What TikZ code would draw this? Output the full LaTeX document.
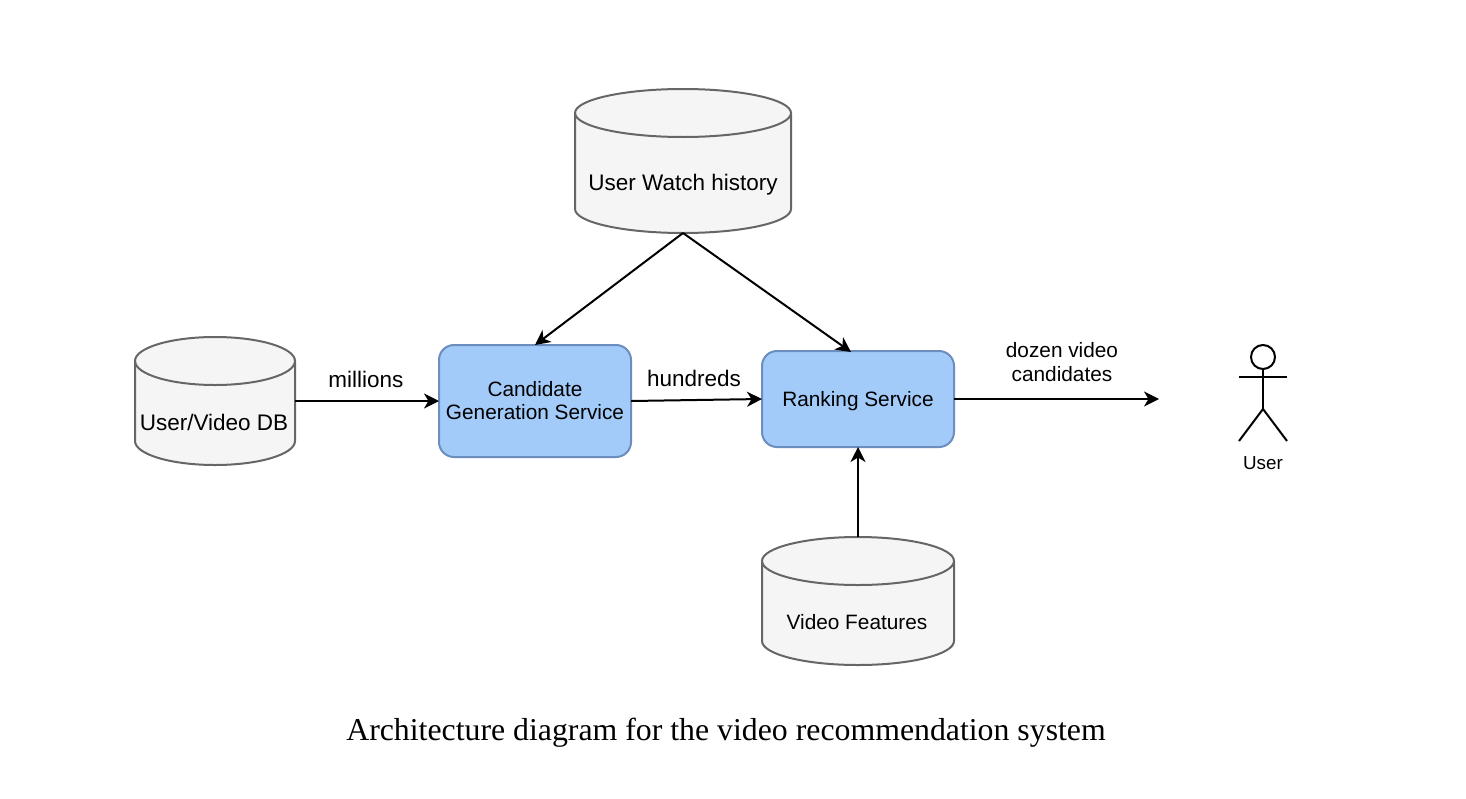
\documentclass[tikz,border=0pt]{standalone}
\usepackage{fontspec}
\setmainfont{Liberation Sans}
\newfontfamily\capfont{Liberation Serif}
\usetikzlibrary{arrows.meta,calc}
\definecolor{cylfill}{HTML}{F5F5F5}
\definecolor{cylline}{HTML}{666666}
\definecolor{boxfill}{HTML}{A3CBFA}
\definecolor{boxline}{HTML}{6C8EBF}
\tikzset{
  x=1pt,y=-1pt,
  txt/.style={font=\fontsize{20.8}{24}\selectfont,align=center,inner sep=0pt,text=black},
  big/.style={font=\fontsize{22.5}{24}\selectfont,align=center,inner sep=0pt,text=black},
  small/.style={font=\fontsize{18.8}{21}\selectfont,align=center,inner sep=0pt,text=black},
  service/.style={txt,draw=boxline,fill=boxfill,line width=2pt,rounded corners=15pt,minimum width=192pt,outer sep=0pt},
  store/.style={inner sep=0pt,outer sep=0pt},
  link/.style={draw=black,line width=2pt,-{Stealth[length=15pt,width=15pt,inset=4.5pt]}},
  limb/.style={draw=black,line width=2pt},
}
% centre x, centre y, width, height, name, label style, text
\newcommand{\dbcyl}[7]{%
  \pgfmathsetmacro{\rx}{#3/2}\pgfmathsetmacro{\hh}{#4/2}\pgfmathsetmacro{\ry}{24}\pgfmathsetmacro{\kx}{0.5523*\rx}\pgfmathsetmacro{\ky}{0.5523*\ry}
  \draw[draw=cylline,fill=cylfill,line width=2pt]
    (#1-\rx,#2-\hh+\ry) .. controls (#1-\rx,#2-\hh+\ry-\ky) and (#1-\kx,#2-\hh) .. (#1,#2-\hh)
    .. controls (#1+\kx,#2-\hh) and (#1+\rx,#2-\hh+\ry-\ky) .. (#1+\rx,#2-\hh+\ry)
    -- (#1+\rx,#2+\hh-\ry)
    .. controls (#1+\rx,#2+\hh-\ry+\ky) and (#1+\kx,#2+\hh) .. (#1,#2+\hh)
    .. controls (#1-\kx,#2+\hh) and (#1-\rx,#2+\hh-\ry+\ky) .. (#1-\rx,#2+\hh-\ry)
    -- cycle;
  \draw[draw=cylline,line width=2pt]
    (#1-\rx,#2-\hh+\ry) .. controls (#1-\rx,#2-\hh+\ry+\ky) and (#1-\kx,#2-\hh+2*\ry) .. (#1,#2-\hh+2*\ry)
    .. controls (#1+\kx,#2-\hh+2*\ry) and (#1+\rx,#2-\hh+\ry+\ky) .. (#1+\rx,#2-\hh+\ry);
  \node[store,minimum width=#3 pt,minimum height=#4 pt,label={[#6]center:#7}] (#5) at (#1,#2) {};
}
\begin{document}
\begin{tikzpicture}
\useasboundingbox (0,0) rectangle (1466,798);
\fill[white] (0,0) rectangle (1466,798);

\dbcyl{683}{161}{216}{144}{watch}{big,yshift=-23.5pt}{User Watch history}
\dbcyl{215}{401}{160}{128}{db}{big,yshift=-21pt,xshift=-1pt}{User/Video DB}
\dbcyl{858}{601}{192}{128}{features}{txt,yshift=-21pt,xshift=-1pt}{Video Features}

\node[service,minimum height=112pt] (cand) at (535,401) {\raisebox{-1pt}{Candidate}\\Generation Service};
\node[service,minimum height=96pt,text depth=0pt] (rank) at (858,399) {Ranking Service};

\coordinate (rankin) at (851,352);
\coordinate (out) at (1159,399);

\draw[link] (db.east) -- (cand.west);
\draw[link] (cand.east) -- (rank.west);
\draw[link] (watch.south) -- (cand.north);
\draw[link] (watch.south) -- (rankin);
\draw[link] (rank.east) -- (out);
\draw[link] (features.north) -- (rank.south);

\node[big] (lmil) at (366,379) {millions};
\node[big] (lhun) at (694,378) {hundreds};
\node[txt] (ldoz) at (1062,362) {dozen video\\candidates};

\node[draw=black,line width=2pt,circle,minimum size=24pt,inner sep=0pt] (head) at (1263,357) {};
\coordinate (hip) at (1263,409);
\coordinate (armL) at (1239,377);
\coordinate (armR) at (1287,377);
\coordinate (legL) at (1239,441);
\coordinate (legR) at (1287,441);
\draw[limb] (head.south) -- (hip);
\draw[limb] (armL) -- (armR);
\draw[limb] (legL) -- (hip) -- (legR);
\node[small] (user) at (1263,463.5) {User};

\node[font=\capfont\fontsize{31.8}{36}\selectfont,inner sep=0pt,text=black] (caption) at (726,732.5) {Architecture diagram for the video recommendation system};
\end{tikzpicture}
\end{document}
